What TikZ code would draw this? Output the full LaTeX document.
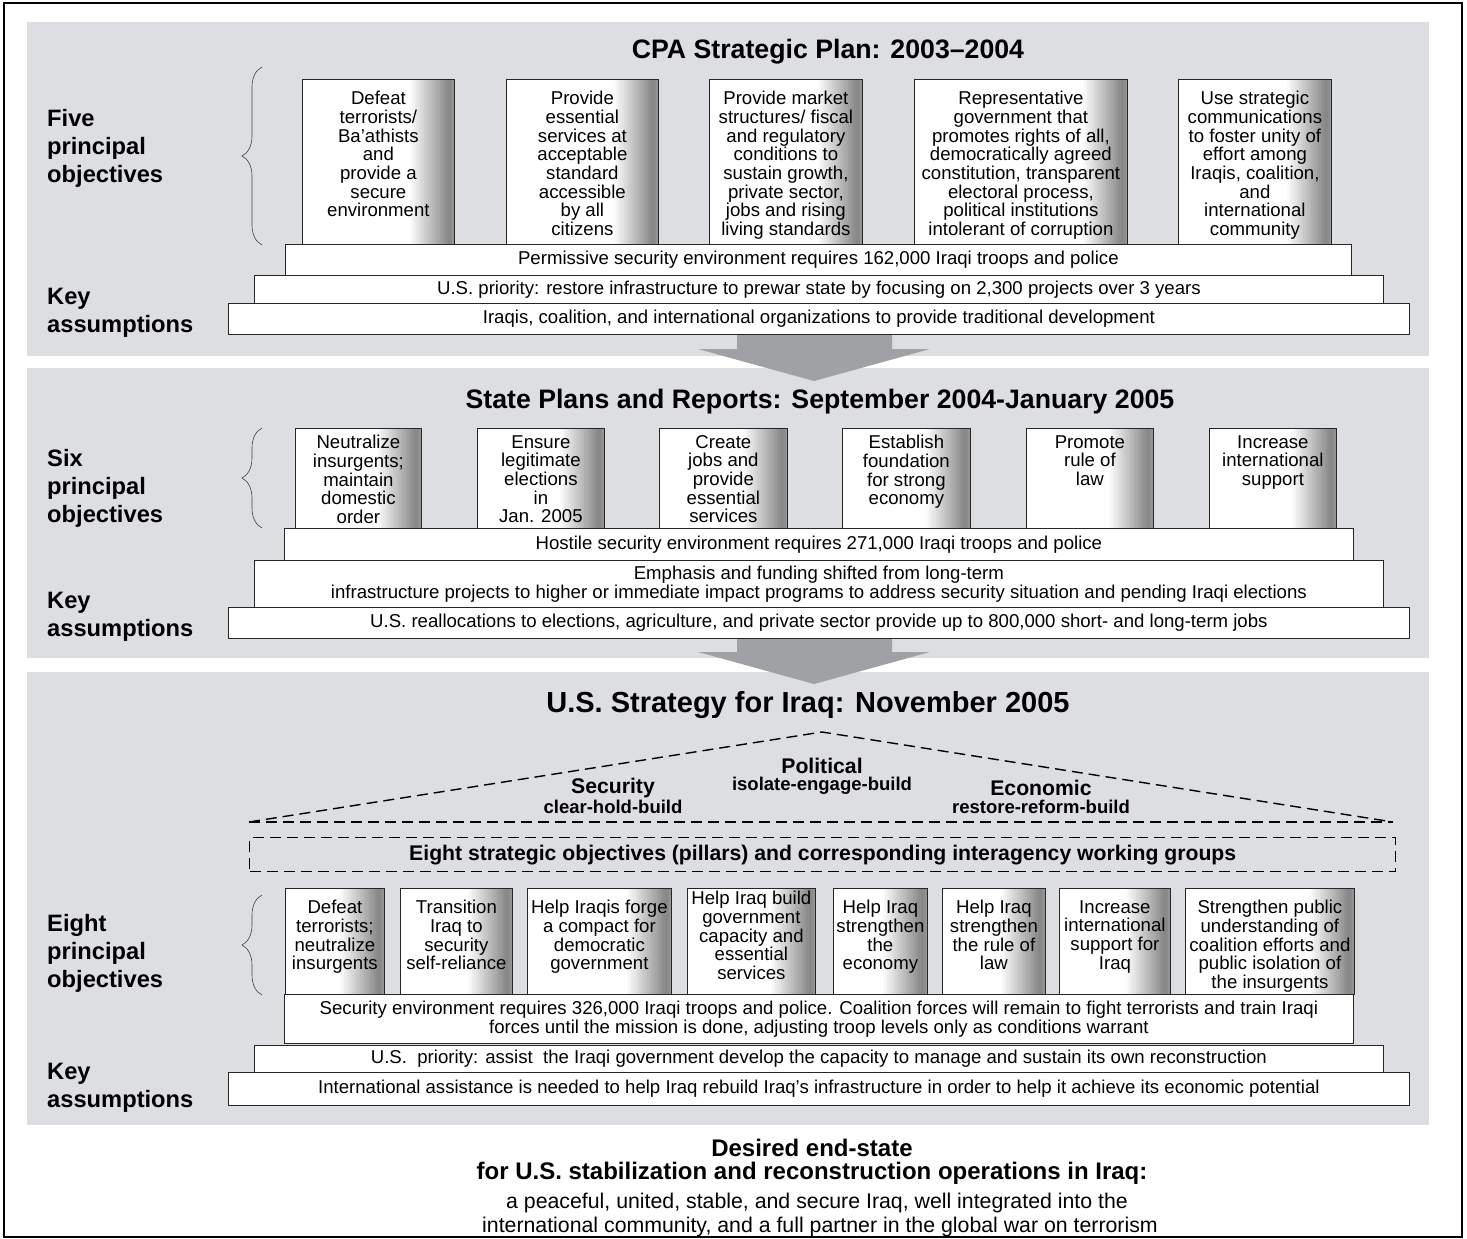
\documentclass[tikz,border=0pt]{standalone}
\usepackage{fontspec}
\setmainfont{Liberation Sans}
\usetikzlibrary{positioning,decorations.pathreplacing}

\definecolor{panelgray}{RGB}{221,222,225}
\definecolor{arrowgray}{RGB}{160,161,165}

\newcommand\bodyfont{\fontsize{18.6}{18.7}\selectfont}
\newcommand\sidefont{\fontsize{23.7}{28}\selectfont\bfseries}
\newcommand\headfont{\fontsize{26.7}{30}\selectfont\bfseries}
\newcommand\bigheadfont{\fontsize{29}{32}\selectfont\bfseries}
\newcommand\rooffont{\fontsize{21.2}{24}\selectfont\bfseries}
\newcommand\subrooffont{\fontsize{18.5}{20}\selectfont\bfseries}
\newcommand\goalfont{\fontsize{24}{26}\selectfont\bfseries}
\newcommand\goaltextfont{\fontsize{21.3}{24}\selectfont}

\begin{document}
\begin{tikzpicture}[x=1pt,y=-1pt,
        pillar/.style={draw=black!85,line width=0.8pt,fill=white,anchor=north west,inner sep=0pt,
          path picture={\foreach \k in {0,...,22} {
              \pgfmathtruncatemacro\pct{\k<21 ? 2.4*\k : 50-4*(\k-20)}
              \pgfmathsetmacro\xs{2*\k-46}
              \fill[black!\pct] ([xshift=\xs pt]path picture bounding box.north east) rectangle (path picture bounding box.south east);}}},
        ptext/.style={inner sep=0pt,align=center,font=\bodyfont},
        bar/.style={draw=black!85,line width=0.8pt,fill=white,anchor=north west,inner sep=0pt,align=center,font=\bodyfont},
        sidelabel/.style={anchor=base west,inner sep=0pt,font=\sidefont},
        curly/.style={draw=black!75,line width=0.6pt,decorate,decoration={brace,amplitude=20pt}},
        roof/.style={line width=1.4pt,dash pattern=on 11pt off 6pt}]
        \useasboundingbox (0,0) rectangle (1467,1239);
        \draw[line width=1.6pt] (4,3) rectangle (1462,1237);

        \fill[panelgray] (27,22) rectangle (1429,356);
        \fill[panelgray] (27,368) rectangle (1429,658);
        \fill[panelgray] (27,672) rectangle (1429,1125);

        \foreach \dy in {0,303} {
          \fill[arrowgray,shift={(0,\dy)}] (737,335) -- (892,335) -- (892,349) -- (930,349)
            -- (814,381) -- (698,349) -- (737,349) -- cycle;
        }

        % CPA plan
        \node[font=\headfont] (cpa) at (828,52) {CPA Strategic Plan: 2003–2004};
        \foreach \t [count=\i] in {Five,principal,objectives}
          \node[sidelabel] (five\i) at (47,98+28*\i) {\t};
        \foreach \t [count=\i] in {Key,assumptions}
          \node[sidelabel] (keya\i) at (47,276+28*\i) {\t};
        \draw[curly] (262,245) -- (262,67);

        \node[pillar,minimum width=152,minimum height=166] (c1) at (302,79) {};
        \node[ptext,below=12pt of c1.north] (c1t) {Defeat\\terrorists/\\Ba’athists\\and\\provide a\\secure\\environment};
        \node[pillar,minimum width=152,minimum height=166] (c2) at (506,79) {};
        \node[ptext,below=12pt of c2.north] (c2t) {Provide\\essential\\services at\\acceptable\\standard\\accessible\\by all\\citizens};
        \node[pillar,minimum width=153,minimum height=166] (c3) at (709,79) {};
        \node[ptext,below=12pt of c3.north] (c3t) {Provide market\\structures/ fiscal\\and regulatory\\conditions to\\sustain growth,\\private sector,\\jobs and rising\\living standards};
        \node[pillar,minimum width=213,minimum height=166] (c4) at (914,79) {};
        \node[ptext,below=12pt of c4.north] (c4t) {Representative\\government that\\promotes rights of all,\\democratically agreed\\constitution, transparent\\electoral process,\\political institutions\\intolerant of corruption};
        \node[pillar,minimum width=153,minimum height=166] (c5) at (1178,79) {};
        \node[ptext,below=12pt of c5.north] (c5t) {Use strategic\\communications\\to foster unity of\\effort among\\Iraqis, coalition,\\and\\international\\community};

        \node[bar,minimum width=1066,minimum height=31] (ca1) at (285,244) {Permissive security environment requires 162,000 Iraqi troops and police};
        \node[bar,minimum width=1129,minimum height=28] (ca2) at (254,275) {U.S. priority: restore infrastructure to prewar state by focusing on 2,300 projects over 3 years};
        \node[bar,minimum width=1181,minimum height=31] (ca3) at (228,303) {Iraqis, coalition, and international organizations to provide traditional development};

        % State plans
        \node[font=\headfont] (state) at (820,402) {State Plans and Reports: September 2004-January 2005};
        \foreach \t [count=\i] in {Six,principal,objectives}
          \node[sidelabel] (six\i) at (47,438+28*\i) {\t};
        \foreach \t [count=\i] in {Key,assumptions}
          \node[sidelabel] (keyb\i) at (47,580+28*\i) {\t};
        \draw[curly] (262,528) -- (262,428);

        \node[pillar,minimum width=126,minimum height=100] (s1) at (295,428) {};
        \node[ptext,below=7pt of s1.north] (s1t) {Neutralize\\insurgents;\\maintain\\domestic\\order};
        \node[pillar,minimum width=127,minimum height=100] (s2) at (477,428) {};
        \node[ptext,below=7pt of s2.north] (s2t) {Ensure\\legitimate\\elections\\in\\Jan. 2005};
        \node[pillar,minimum width=128,minimum height=100] (s3) at (659,428) {};
        \node[ptext,below=7pt of s3.north] (s3t) {Create\\jobs and\\provide\\essential\\services};
        \node[pillar,minimum width=128,minimum height=100] (s4) at (842,428) {};
        \node[ptext,below=7pt of s4.north] (s4t) {Establish\\foundation\\for strong\\economy};
        \node[pillar,minimum width=127,minimum height=100] (s5) at (1026,428) {};
        \node[ptext,below=7pt of s5.north] (s5t) {Promote\\rule of\\law};
        \node[pillar,minimum width=127,minimum height=100] (s6) at (1209,428) {};
        \node[ptext,below=7pt of s6.north] (s6t) {Increase\\international\\support};

        \node[bar,minimum width=1069,minimum height=32] (sa1) at (284,528) {Hostile security environment requires 271,000 Iraqi troops and police};
        \node[bar,minimum width=1129,minimum height=47] (sa2) at (254,560) {Emphasis and funding shifted from long-term\\infrastructure projects to higher or immediate impact programs to address security situation and pending Iraqi elections};
        \node[bar,minimum width=1181,minimum height=31] (sa3) at (228,607) {U.S. reallocations to elections, agriculture, and private sector provide up to 800,000 short- and long-term jobs};

        % U.S. strategy
        \node[font=\bigheadfont] (strat) at (808,705) {U.S. Strategy for Iraq: November 2005};
        \coordinate (rl) at (249,822);
        \coordinate (rt) at (822,732);
        \coordinate (rr) at (1393,822);
        \draw[roof] (rl) -- (rt) -- (rr);
        \draw[roof] (rl) -- (rr);
        \node[font=\rooffont] (pol) at (822,766) {Political};
        \node[font=\subrooffont] (polw) at (822,786) {isolate-engage-build};
        \node[font=\rooffont] (sec) at (613,788) {Security};
        \node[font=\subrooffont] (secw) at (613,807) {clear-hold-build};
        \node[font=\rooffont] (eco) at (1041,788) {Economic};
        \node[font=\subrooffont] (ecow) at (1041,807) {restore-reform-build};
        \node[draw,roof,anchor=north west,minimum width=1146,minimum height=34,font=\rooffont] (groups) at (249,837)
          {Eight strategic objectives (pillars) and corresponding interagency working groups};

        \foreach \t [count=\i] in {Eight,principal,objectives}
          \node[sidelabel] (eight\i) at (47,903+28*\i) {\t};
        \foreach \t [count=\i] in {Key,assumptions}
          \node[sidelabel] (keyc\i) at (47,1051+28*\i) {\t};
        \draw[curly] (262,995) -- (262,895);

        \node[pillar,minimum width=99,minimum height=106] (u1) at (285,888) {};
        \node[ptext,below=12pt of u1.north] (u1t) {Defeat\\terrorists;\\neutralize\\insurgents};
        \node[pillar,minimum width=112,minimum height=106] (u2) at (400,888) {};
        \node[ptext,below=12pt of u2.north] (u2t) {Transition\\Iraq to\\security\\self-reliance};
        \node[pillar,minimum width=144,minimum height=106] (u3) at (527,888) {};
        \node[ptext,below=12pt of u3.north] (u3t) {Help Iraqis forge\\a compact for\\democratic\\government};
        \node[pillar,minimum width=128,minimum height=106] (u4) at (687,888) {};
        \node[ptext,below=3pt of u4.north] (u4t) {Help Iraq build\\government\\capacity and\\essential\\services};
        \node[pillar,minimum width=94,minimum height=106] (u5) at (833,888) {};
        \node[ptext,below=12pt of u5.north] (u5t) {Help Iraq\\strengthen\\the\\economy};
        \node[pillar,minimum width=103,minimum height=106] (u6) at (942,888) {};
        \node[ptext,below=12pt of u6.north] (u6t) {Help Iraq\\strengthen\\the rule of\\law};
        \node[pillar,minimum width=111,minimum height=106] (u7) at (1059,888) {};
        \node[ptext,below=12pt of u7.north] (u7t) {Increase\\international\\support for\\Iraq};
        \node[pillar,minimum width=169,minimum height=106] (u8) at (1185,888) {};
        \node[ptext,below=12pt of u8.north] (u8t) {Strengthen public\\understanding of\\coalition efforts and\\public isolation of\\the insurgents};

        \node[bar,minimum width=1069,minimum height=49] (ua1) at (284,994) {Security environment requires 326,000 Iraqi troops and police. Coalition forces will remain to fight terrorists and train Iraqi\\forces until the mission is done, adjusting troop levels only as conditions warrant};
        \node[bar,minimum width=1129,minimum height=27] (ua2) at (254,1045) {U.S.\ \ priority: assist\ \ the Iraqi government develop the capacity to manage and sustain its own reconstruction};
        \node[bar,minimum width=1181,minimum height=33] (ua3) at (228,1072) {International assistance is needed to help Iraq rebuild Iraq’s infrastructure in order to help it achieve its economic potential};

        % end-state
        \node[font=\goalfont] (goal1) at (812,1148) {Desired end-state};
        \node[font=\goalfont] (goal2) at (812,1173) {for U.S. stabilization and reconstruction operations in Iraq:};
        \node[font=\goaltextfont] (goal3) at (817,1203) {a peaceful, united, stable, and secure Iraq, well integrated into the};
        \node[font=\goaltextfont] (goal4) at (820,1227) {international community, and a full partner in the global war on terrorism};
      \end{tikzpicture}
\end{document}
